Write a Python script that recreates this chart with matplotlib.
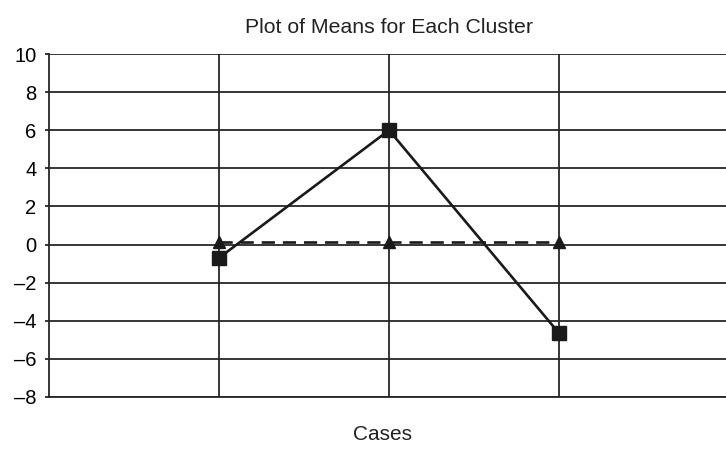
import matplotlib
matplotlib.use("Agg")
import matplotlib.pyplot as plt

# means per cluster
cases = [1, 2, 3]
cluster_1 = [-0.7, 6.0, -4.65]
cluster_2 = [0.15, 0.15, 0.15]
yticks = [-8, -6, -4, -2, 0, 2, 4, 6, 8, 10]
ytick_labels = [("–" + str(-t)) if t < 0 else str(t) for t in yticks]

plt.rcParams['font.family'] = ['Liberation Sans', 'DejaVu Sans']

fig = plt.figure(figsize=(7.26, 4.49), dpi=100)
ax = fig.add_axes([49 / 726, 52 / 449, 680 / 726, 343 / 449])

grid_col = "#262626"
for t in yticks:
    ax.axhline(t, color=grid_col, lw=1.3, zorder=1)
for c in cases:
    ax.axvline(c, color=grid_col, lw=1.3, zorder=1)

ax.plot(cases, cluster_2, color="#1a1a1a", lw=1.9, ls=(0, (5, 3)),
        marker="^", markersize=8, zorder=3)
ax.plot(cases, cluster_1, color="#1a1a1a", lw=1.9,
        marker="s", markersize=9.5, zorder=4)

ax.set_xlim(0, 4)
ax.set_ylim(-8, 10)
ax.set_xticks([])
ax.set_yticks(yticks)
ax.set_yticklabels(ytick_labels, fontsize=14.5)
ax.tick_params(axis="y", length=3, width=1.3, pad=6, color=grid_col)

for side in ["top", "right"]:
    ax.spines[side].set_visible(False)
for side in ["left", "bottom"]:
    ax.spines[side].set_linewidth(1.3)
    ax.spines[side].set_color(grid_col)

ax.set_title("Plot of Means for Each Cluster", fontsize=15.3, pad=15, color="#222222")
fig.text(382 / 726, 1 - 434 / 449, "Cases", fontsize=15, color="#222222",
         ha="center", va="center")

fig.savefig("out.png", dpi=100)
